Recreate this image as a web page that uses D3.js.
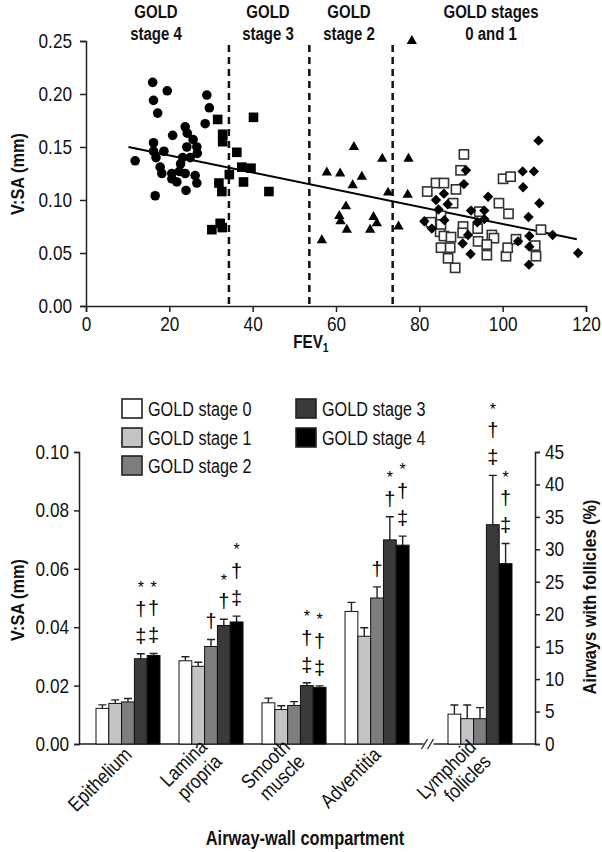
<!DOCTYPE html>
<html>
<head>
<meta charset="utf-8">
<script src="https://cdn.jsdelivr.net/npm/d3@7"></script>
<style>
body { margin: 0; background: #fff; }
</style>
</head>
<body>
<div id="chart"></div>
<script>
// ---- top panel: V:SA against FEV1, one series per GOLD stage ----
var fev4 = [16.0,19.5,16.2,17.2,29.0,29.6,28.6,20.8,23.8,24.3,25.7,16.2,24.2,26.6,26.7,18.7,16.2,11.8,16.8,23.2,25.0,17.8,22.7,18.2,20.6,22.4,23.8,26.2,20.6,21.8,26.6,24.0,16.6];
var vsa4 = [0.211,0.203,0.194,0.182,0.199,0.187,0.172,0.161,0.169,0.163,0.157,0.154,0.150,0.150,0.144,0.146,0.146,0.137,0.140,0.140,0.140,0.131,0.134,0.125,0.125,0.127,0.125,0.123,0.120,0.117,0.116,0.109,0.104];

var fev3 = [40.2,31.6,32.8,32.8,36.2,37.4,39.6,34.4,31.9,32.6,37.8,43.9,30.2,32.2,32.7];
var vsa3 = [0.178,0.176,0.162,0.155,0.145,0.131,0.130,0.124,0.116,0.108,0.117,0.108,0.072,0.078,0.074];

var fev2 = [64.3,71.1,57.8,61.0,66.2,64.0,72.5,62.4,60.8,61.1,62.6,69.0,69.8,68.2,56.6,75.0,78.2,77.4,77.2];
var vsa2 = [0.150,0.139,0.126,0.125,0.122,0.114,0.107,0.094,0.085,0.080,0.072,0.084,0.078,0.072,0.062,0.075,0.250,0.139,0.105];

var fev0 = [90.7,89.9,84.0,85.9,81.9,88.8,100.1,101.9,88.1,99.1,101.4,85.2,94.4,82.8,85.0,85.9,87.6,90.5,94.0,90.4,97.4,97.9,94.1,96.2,96.2,85.2,87.4,86.9,88.6,100.8,101.2,103.2,107.8,108.0,109.2,85.2];
var vsa0 = [0.143,0.128,0.116,0.116,0.108,0.110,0.120,0.122,0.097,0.097,0.087,0.085,0.089,0.079,0.070,0.066,0.065,0.075,0.073,0.069,0.067,0.064,0.061,0.058,0.048,0.055,0.055,0.045,0.036,0.047,0.055,0.063,0.057,0.047,0.072,0.077];

var fev1 = [108.6,91.2,90.7,104.8,107.5,104.9,85.9,84.0,86.8,96.5,108.8,84.6,92.4,95.6,106.2,81.2,86.0,93.9,95.6,83.0,91.7,106.4,112.0,90.4,103.7,106.4,92.3,106.3,118.1];
var vsa1 = [0.156,0.128,0.115,0.127,0.127,0.112,0.106,0.100,0.096,0.103,0.097,0.091,0.090,0.090,0.084,0.080,0.081,0.079,0.082,0.073,0.067,0.066,0.067,0.059,0.061,0.056,0.049,0.039,0.050];

var fitFev = [10.2, 117.8];
var fitVsa = [0.150, 0.063];
var stageCuts = [34.3, 53.6, 73.6];

var fevTicks = [0, 20, 40, 60, 80, 100, 120];
var vsaTicks = [0, 0.05, 0.10, 0.15, 0.20, 0.25];
var topTitles = [["GOLD", "stage 4", 156], ["GOLD", "stage 3", 268], ["GOLD", "stage 2", 349], ["GOLD stages", "0 and 1", 491]];

// ---- bottom panel: wall compartments ----
var compartments = [["Epithelium"], ["Lamina", "propria"], ["Smooth", "muscle"], ["Adventitia"], ["Lymphoid", "follicles"]];
var compartPos = [0, 1, 2, 3, 4.24];
var stages = ["GOLD stage 0", "GOLD stage 1", "GOLD stage 2", "GOLD stage 3", "GOLD stage 4"];
var stageFill = ["#ffffff", "#c4c4c4", "#7e7e7e", "#3a3a3a", "#000000"];
// last row is % of airways (right axis)
var barMean = [
  [0.0122, 0.0139, 0.0144, 0.0292, 0.0303],
  [0.0285, 0.0266, 0.0334, 0.0406, 0.0418],
  [0.0141, 0.0118, 0.0132, 0.0200, 0.0194],
  [0.0454, 0.0369, 0.0500, 0.0699, 0.0681],
  [4.6, 3.9, 3.9, 33.8, 27.8]
];
var barErr = [
  [0.0134, 0.0151, 0.0156, 0.0309, 0.0310],
  [0.0299, 0.0280, 0.0358, 0.0427, 0.0438],
  [0.0157, 0.0131, 0.0145, 0.0210, 0.0199],
  [0.0485, 0.0398, 0.0538, 0.0778, 0.0712],
  [6.0, 6.0, 5.6, 41.4, 30.9]
];
var barMarks = [
  ["", "", "", "*†‡", "*†‡"],
  ["", "", "†", "*†", "*†‡"],
  ["", "", "", "*†‡", "*†‡"],
  ["", "", "†", "*†", "*†‡"],
  ["", "", "", "*†‡", "*†‡"]
];
var leftTicks = [0, 0.02, 0.04, 0.06, 0.08, 0.10];
var rightTicks = [0, 5, 10, 15, 20, 25, 30, 35, 40, 45];

const font = "'Liberation Sans', Arial, sans-serif";
const ink = "#111";

var svg = d3.select("#chart").append("svg")
    .attr("width", 602)
    .attr("height", 852)
    .style("font-family", font);

// the original uses a condensed face, so squeeze text horizontally
function squeezed(x, y, sx, rot) {
    return svg.append("g")
        .attr("transform", "translate(" + x + "," + y + ")" + (rot ? " rotate(" + rot + ")" : "") + " scale(" + sx + ",1)");
}

function styleAxis(g) {
    g.attr("font-family", font).attr("font-size", 20);
    g.select(".domain").attr("stroke", "#222").attr("stroke-width", 1.5);
    g.selectAll(".tick line").attr("stroke", "#222").attr("stroke-width", 1.5);
    g.selectAll(".tick text").attr("fill", ink).each(function () {
        var t = d3.select(this);
        var x = +t.attr("x") || 0;
        t.attr("x", x / 0.86).attr("transform", "scale(0.86,1)");
    });
}

// ================= scatter =================
var xS = d3.scaleLinear().domain([0, 120]).range([86, 586]);
var yS = d3.scaleLinear().domain([0, 0.25]).range([306, 41]);

svg.append("g")
    .attr("transform", "translate(0,306)")
    .call(d3.axisBottom(xS).tickValues(fevTicks).tickSizeOuter(0).tickSize(6).tickPadding(5))
    .call(styleAxis);

svg.append("g")
    .attr("transform", "translate(86,0)")
    .call(d3.axisLeft(yS).tickValues(vsaTicks).tickFormat(d3.format(".2f")).tickSizeOuter(0).tickSize(6).tickPadding(8))
    .call(styleAxis);

// stage cut-offs
svg.selectAll(".cut").data(stageCuts).enter().append("line")
    .attr("class", "cut")
    .attr("x1", d => xS(d)).attr("x2", d => xS(d))
    .attr("y1", 45).attr("y2", yS(0))
    .attr("stroke", "#111").attr("stroke-width", 2.5)
    .attr("stroke-dasharray", "7,5");

// regression line
svg.append("line")
    .attr("x1", xS(fitFev[0])).attr("y1", yS(fitVsa[0]))
    .attr("x2", xS(fitFev[1])).attr("y2", yS(fitVsa[1]))
    .attr("stroke", "#000").attr("stroke-width", 2);

function pts(xs, ys) { return xs.map((d, i) => [d, ys[i]]); }

svg.selectAll(".s4").data(pts(fev4, vsa4)).enter().append("circle")
    .attr("cx", d => xS(d[0])).attr("cy", d => yS(d[1])).attr("r", 4.8).attr("fill", "#000");

svg.selectAll(".s3").data(pts(fev3, vsa3)).enter().append("rect")
    .attr("x", d => xS(d[0]) - 4.8).attr("y", d => yS(d[1]) - 4.8)
    .attr("width", 9.6).attr("height", 9.6).attr("fill", "#000");

svg.selectAll(".s2").data(pts(fev2, vsa2)).enter().append("path")
    .attr("d", d3.symbol().type(d3.symbolTriangle).size(46))
    .attr("transform", d => "translate(" + xS(d[0]) + "," + yS(d[1]) + ")")
    .attr("fill", "#000");

svg.selectAll(".s0").data(pts(fev0, vsa0)).enter().append("rect")
    .attr("x", d => xS(d[0]) - 4.6).attr("y", d => yS(d[1]) - 4.6)
    .attr("width", 9.2).attr("height", 9.2)
    .attr("fill", "#fff").attr("stroke", "#333").attr("stroke-width", 1.6);

svg.selectAll(".s1").data(pts(fev1, vsa1)).enter().append("path")
    .attr("d", d3.symbol().type(d3.symbolSquare).size(54))
    .attr("transform", d => "translate(" + xS(d[0]) + "," + yS(d[1]) + ") rotate(45)")
    .attr("fill", "#000");

// stage titles, two lines each
topTitles.forEach(function (t) {
    [[t[0], 18], [t[1], 39.5]].forEach(function (ln) {
        squeezed(t[2], ln[1], 0.79).append("text").attr("text-anchor", "middle")
            .attr("font-weight", "bold").attr("font-size", 19).attr("fill", ink)
            .text(ln[0]);
    });
});

squeezed(24, 174, 0.86, -90).append("text")
    .attr("text-anchor", "middle").attr("font-weight", "bold").attr("font-size", 19).attr("fill", ink)
    .text("V:SA (mm)");

var fevLab = squeezed(311, 348, 0.8).append("text")
    .attr("text-anchor", "middle").attr("font-weight", "bold").attr("font-size", 19).attr("fill", ink);
fevLab.append("tspan").text("FEV");
fevLab.append("tspan").attr("font-size", 13).attr("dy", 4).text("1");

// ================= bars =================
var yL = d3.scaleLinear().domain([0, 0.10]).range([744, 452]);
var yR = d3.scaleLinear().domain([0, 45]).range([744, 452]);
var xG = d3.scaleLinear().domain([0, 4.24]).range([128, 480]);
var xB = d3.scaleBand().domain(stages).range([-32, 32]);

svg.append("g")
    .attr("transform", "translate(79,0)")
    .call(d3.axisLeft(yL).tickValues(leftTicks).tickFormat(d3.format(".2f")).tickSizeOuter(0).tickSize(5).tickPadding(5))
    .call(styleAxis);

svg.append("g")
    .attr("transform", "translate(535,0)")
    .call(d3.axisRight(yR).tickValues(rightTicks).tickSizeOuter(0).tickSize(5).tickPadding(5))
    .call(styleAxis);

// baseline with the break before the follicles group
var brk = (xG(compartPos[3]) + xG(compartPos[4])) / 2;
svg.append("line").attr("x1", 79).attr("x2", brk - 5).attr("y1", 744).attr("y2", 744)
    .attr("stroke", "#222").attr("stroke-width", 1.5);
svg.append("line").attr("x1", brk + 5).attr("x2", 535).attr("y1", 744).attr("y2", 744)
    .attr("stroke", "#222").attr("stroke-width", 1.5);
[-4, 2].forEach(function (o) {
    svg.append("line")
        .attr("x1", brk + o - 3).attr("y1", 749).attr("x2", brk + o + 3).attr("y2", 739)
        .attr("stroke", "#222").attr("stroke-width", 1.3);
});

var barRows = [];
barMean.forEach(function (row, gi) {
    row.forEach(function (v, si) {
        barRows.push({g: gi, s: si, v: v, e: barErr[gi][si], m: barMarks[gi][si]});
    });
});
function yFor(d) { return d.g === 4 ? yR : yL; }
function bx(d) { return xG(compartPos[d.g]) + xB(stages[d.s]); }

// error bars (drawn first, bars sit over the stem)
svg.selectAll(".err").data(barRows).enter().append("path")
    .attr("d", function (d) {
        var cx = bx(d) + xB.bandwidth() / 2, y0 = yFor(d)(d.v), y1 = yFor(d)(d.e);
        return "M" + cx + "," + y0 + "V" + y1 + "M" + (cx - 4) + "," + y1 + "H" + (cx + 4);
    })
    .attr("stroke", "#222").attr("stroke-width", 1.4).attr("fill", "none");

svg.selectAll(".bar").data(barRows).enter().append("rect")
    .attr("x", d => bx(d))
    .attr("y", d => yFor(d)(d.v))
    .attr("width", xB.bandwidth())
    .attr("height", d => 744 - yFor(d)(d.v))
    .attr("fill", d => stageFill[d.s])
    .attr("stroke", "#111").attr("stroke-width", 1);

// significance symbols stacked above error bars
barRows.filter(d => d.m).forEach(function (d) {
    var cx = bx(d) + xB.bandwidth() / 2, top = yFor(d)(d.e);
    d.m.split("").reverse().forEach(function (ch, k) {
        svg.append("text")
            .attr("x", cx).attr("y", top - 18 - k * 27)
            .attr("dy", ch === "*" ? "0.7em" : "0.35em")
            .attr("text-anchor", "middle")
            .attr("font-size", ch === "*" ? 16 : 20)
            .attr("fill", "#000")
            .text(ch);
    });
});

// compartment labels
compartments.forEach(function (lines, gi) {
    var t = squeezed(xG(compartPos[gi]), 751, 0.86, -45).append("text")
        .attr("text-anchor", "end").attr("font-size", 20).attr("fill", ink);
    lines.forEach(function (l, k) {
        t.append("tspan").attr("x", 0)
            .attr("dy", k === 0 ? (lines.length === 1 ? "0.35em" : "-0.2em") : "1.05em")
            .text(l);
    });
});

squeezed(305, 845, 0.82).append("text")
    .attr("text-anchor", "middle").attr("font-weight", "bold").attr("font-size", 20).attr("fill", ink)
    .text("Airway-wall compartment");

squeezed(24, 600, 0.86, -90).append("text")
    .attr("text-anchor", "middle").attr("font-weight", "bold").attr("font-size", 19).attr("fill", ink)
    .text("V:SA (mm)");

squeezed(596, 597, 0.86, -90).append("text")
    .attr("text-anchor", "middle").attr("font-weight", "bold").attr("font-size", 19).attr("fill", ink)
    .text("Airways with follicles (%)");

// legend, two columns
var legPos = [[122, 399], [122, 428], [122, 456], [296, 399], [296, 428]];
stages.forEach(function (s, i) {
    var g = svg.append("g").attr("transform", "translate(" + legPos[i][0] + "," + legPos[i][1] + ")");
    g.append("rect").attr("width", 20).attr("height", 19)
        .attr("fill", stageFill[i]).attr("stroke", "#222").attr("stroke-width", 1.6);
    squeezed(legPos[i][0] + 26, legPos[i][1] + 10, 0.81).append("text")
        .attr("dy", "0.35em")
        .attr("font-size", 20).attr("fill", ink).text(s);
});
</script>
</body>
</html>
